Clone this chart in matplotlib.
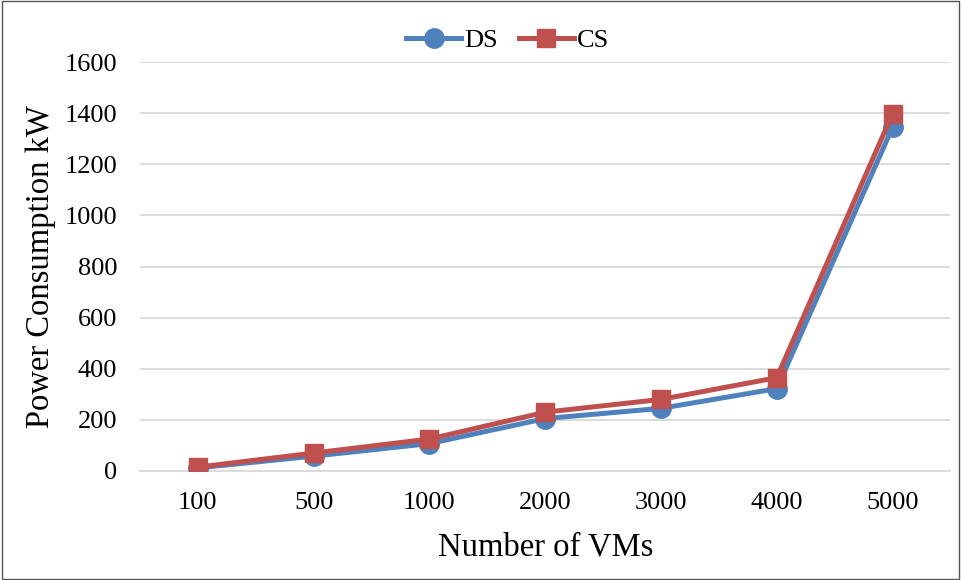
import matplotlib
matplotlib.use('Agg')
import matplotlib.pyplot as plt
import numpy as np

# Number of VMs and power draw per scheduler
vm_counts = ['100', '500', '1000', '2000', '3000', '4000', '5000']
ds_power = [12, 58, 107, 205, 245, 322, 1345]
cs_power = [15, 70, 125, 230, 280, 365, 1398]

plt.rcParams['font.family'] = ['Liberation Serif', 'DejaVu Serif']

fig = plt.figure(figsize=(9.61, 5.8), dpi=100)
ax = fig.add_axes([0.1457, 0.188, 0.8433, 0.705])

x = np.arange(len(vm_counts))
ax.plot(x, ds_power, color='#4F81BD', linewidth=3.6, marker='o',
        markersize=14, label='DS', zorder=3)
ax.plot(x, cs_power, color='#C0504D', linewidth=3.6, marker='s',
        markersize=13, label='CS', zorder=4)

ax.set_xlim(-0.5, len(vm_counts) - 0.5)
ax.set_ylim(0, 1600)
ax.set_xticks(x)
ax.set_xticklabels(vm_counts)
ax.set_yticks(np.arange(0, 1601, 200))
ax.tick_params(axis='both', length=0, labelsize=19)
ax.tick_params(axis='x', pad=15)
ax.tick_params(axis='y', pad=16.5)

ax.grid(axis='y', color='#d9d9d9', linewidth=1.3)
ax.set_axisbelow(True)
for side in ['top', 'right', 'left']:
    ax.spines[side].set_visible(False)
ax.spines['bottom'].set_color('#d9d9d9')
ax.spines['bottom'].set_linewidth(1.3)

ax.set_xlabel('Number of VMs', fontsize=23.5, labelpad=13)
ax.set_ylabel('Power Consumption kW', fontsize=23.5, labelpad=6)

ax.legend(loc='center', bbox_to_anchor=(0.528, 0.931),
          bbox_transform=fig.transFigure, ncol=2, frameon=False,
          fontsize=19, handlelength=2.1, handletextpad=0.1,
          columnspacing=0.8, borderaxespad=0)

# thin frame around the whole chart
fig.patches.append(plt.Rectangle((0.002, 0.002), 0.996, 0.996, fill=False,
                                 edgecolor='#555555', linewidth=1,
                                 transform=fig.transFigure, figure=fig))

fig.savefig('out.png', dpi=100)
